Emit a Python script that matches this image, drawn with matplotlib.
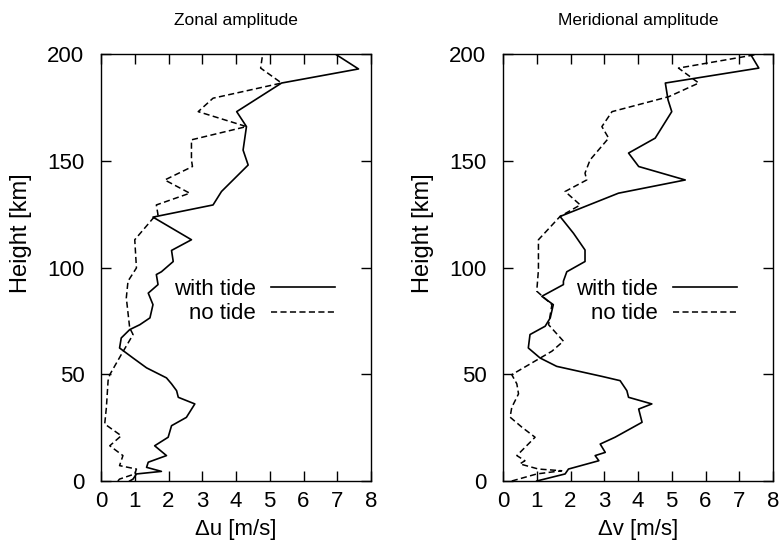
import matplotlib
matplotlib.use("Agg")
import matplotlib.pyplot as plt

plt.rcParams['font.family'] = ['Liberation Sans', 'DejaVu Sans']

# Zonal amplitude (left)
zon_tide_h = [0, 0.9, 3.3, 4.5, 6.4, 8.8, 11.9, 16.5, 20.5, 25.9, 29.8, 36.1, 39.2, 42.3, 45.5, 48.3,
              53, 57.6, 62.3, 67, 70.9, 73.2, 76.4, 82.6, 88, 92, 96.7, 98, 102.8, 108, 113, 123.6,
              129.3, 135.6, 148, 155, 166, 173, 186.4, 193, 200]
zon_tide_u = [0.85, 0.95, 1.05, 1.79, 1.35, 1.40, 1.94, 1.59, 1.99, 2.09, 2.53, 2.78, 2.29, 2.24, 2.09, 1.94,
              1.35, 0.95, 0.55, 0.60, 0.85, 1.15, 1.45, 1.54, 1.40, 1.69, 1.64, 1.79, 2.14, 2.09, 2.68, 1.54,
              3.32, 3.57, 4.36, 4.21, 4.31, 4.02, 5.35, 7.63, 6.94]
zon_none_h = [0, 0.9, 3.3, 5.6, 7.2, 11.9, 16.5, 21.2, 26.7, 34.5, 47, 49.8, 59.2, 68.6, 71.7, 85.8,
              93.6, 99.8, 113, 123, 124.6, 129.3, 134.8, 141, 147.3, 150.4, 159.8, 166, 173, 179.3,
              186.4, 193.4, 200]
zon_none_u = [0.5, 0.55, 1.0, 1.05, 0.55, 0.65, 0.26, 0.60, 0.11, 0.16, 0.21, 0.26, 0.60, 0.95, 0.85, 0.75,
              0.80, 1.05, 1.0, 1.54, 1.69, 1.64, 2.63, 1.89, 2.71, 2.68, 2.68, 4.31, 2.88, 3.32,
              5.35, 4.73, 4.79]

# Meridional amplitude (right)
mer_tide_h = [0, 3.3, 5.6, 9.5, 11.9, 13.4, 17.3, 20.5, 27.5, 33.7, 36.1, 39.2, 42.3, 47, 49, 53.7,
              57.6, 62.3, 68.6, 72.5, 76.4, 82.6, 86.5, 92, 93.6, 98, 102.8, 108.2, 116, 123.9,
              134.8, 141, 147.3, 153.6, 160.6, 173, 178.5, 186.4, 193.4, 200]
mer_tide_v = [1.0, 1.84, 1.94, 2.84, 2.73, 3.03, 2.88, 3.32, 4.12, 4.02, 4.41, 3.72, 3.67, 3.47, 2.93, 1.59,
              1.10, 0.75, 0.80, 1.25, 1.40, 1.49, 1.15, 1.79, 1.79, 1.89, 2.43, 2.43, 2.09, 1.69,
              3.42, 5.40, 4.02, 3.72, 4.51, 5.0, 4.89, 4.81, 7.58, 7.33]
mer_none_h = [0, 3.3, 4.8, 5.6, 8, 9.5, 11.9, 18.1, 20.5, 25.2, 29.9, 34.5, 40.8, 45.5, 49.8, 60.8,
              65.5, 73.2, 82.6, 88.9, 98.9, 113, 123.9, 129.3, 135.6, 141, 144.2, 150.4, 160.6, 166,
              173, 180, 186.4, 193.4, 200]
mer_none_v = [0.26, 1.0, 1.74, 1.05, 0.50, 0.65, 0.41, 0.80, 0.95, 0.56, 0.21, 0.26, 0.46, 0.41, 0.26, 1.45,
              1.79, 1.35, 1.45, 1.0, 1.05, 1.05, 1.69, 2.29, 1.84, 2.48, 2.43, 2.58, 3.13, 2.93,
              3.23, 4.91, 5.8, 5.2, 7.6]

titles = ["Zonal amplitude", "Meridional amplitude"]
xlabels = ["\u0394u [m/s]", "\u0394v [m/s]"]
xticks = [0, 1, 2, 3, 4, 5, 6, 7, 8]
yticks = [0, 50, 100, 150, 200]

fig = plt.figure(figsize=(7.8, 5.48), dpi=100)
W, H = 780, 548
axes_px = [(101, 54, 371, 481), (503, 54, 773, 481)]
data = [(zon_tide_u, zon_tide_h, zon_none_u, zon_none_h),
        (mer_tide_v, mer_tide_h, mer_none_v, mer_none_h)]

FS = 16
for i, (x0, y0, x1, y1) in enumerate(axes_px):
    ax = fig.add_axes([x0 / W, 1 - y1 / H, (x1 - x0) / W, (y1 - y0) / H])
    tu, th, nu, nh = data[i]
    ax.plot(tu, th, color='black', lw=1.2, label='with tide')
    ax.plot(nu, nh, color='black', lw=1.1, ls=(0, (4, 2.2)), label='no tide')
    ax.set_xlim(0, 8)
    ax.set_ylim(0, 200)
    ax.set_xticks(xticks)
    ax.set_yticks(yticks)
    ax.tick_params(direction='in', length=7, width=1, top=True, right=True,
                   labelsize=FS)
    ax.tick_params(axis='y', pad=12)
    ax.tick_params(axis='x', pad=7)
    for s in ax.spines.values():
        s.set_linewidth(1.0)
    ax.set_title(titles[i], fontsize=12.5, pad=21)
    ax.set_xlabel(xlabels[i], fontsize=FS)
    ax.xaxis.set_label_coords(0.5, -0.088)
    ax.set_ylabel("Height [km]", fontsize=17)
    ax.yaxis.set_label_coords(-0.255, 0.58)
    ax.legend(loc='center right', bbox_to_anchor=(0.865, 0.42), frameon=False,
              markerfirst=False, fontsize=FS, handlelength=2.85, handletextpad=0.7,
              labelspacing=0.15, borderaxespad=0, borderpad=0)

fig.savefig("out.png", dpi=100)
